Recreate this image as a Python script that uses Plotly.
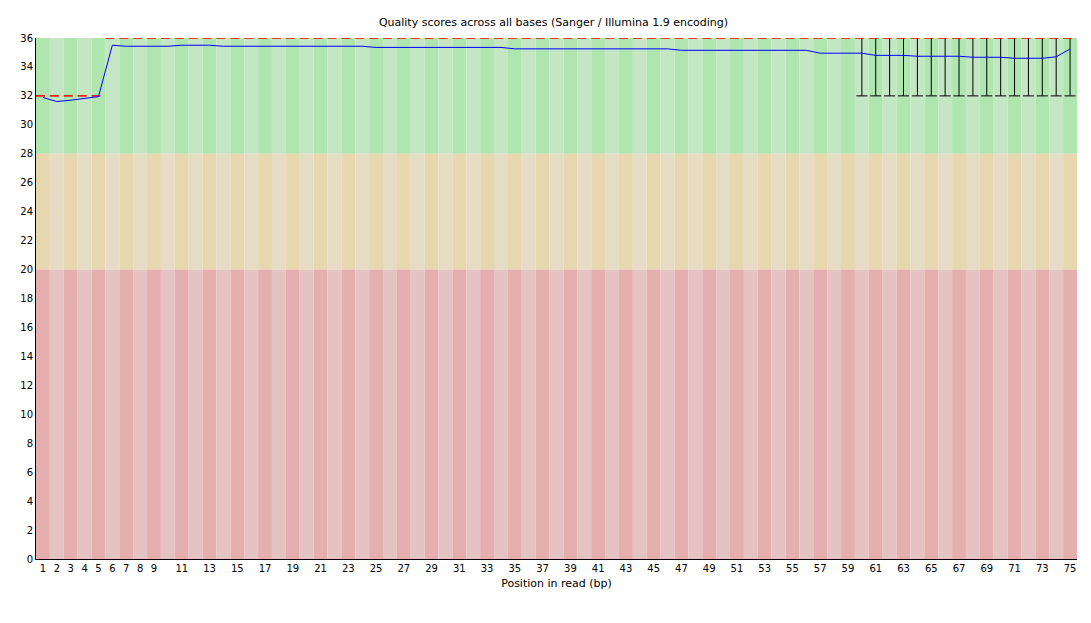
import plotly.graph_objects as go

positions = list(range(1, 76))
mean_q = [31.89, 31.61, 31.7, 31.8, 31.95, 35.5, 35.43, 35.43, 35.43, 35.43,
          35.5, 35.5, 35.5] + [35.43]*11 + [35.35]*10 + [35.25]*12 + [35.15]*10 + \
         [34.95]*4 + [34.8]*3 + [34.74]*4 + [34.67]*3 + [34.6]*3 + [34.7, 35.24]
median_q = [32]*5 + [36]*70
whisk_low = [None]*59 + [32]*16
whisk_high = [None]*59 + [36]*16
tick_vals = list(range(1, 10)) + list(range(11, 76, 2))

fig = go.Figure()
shapes = []
zones = [(28, 36, ("rgb(175,230,175)", "rgb(195,230,195)")),
         (20, 28, ("rgb(230,215,175)", "rgb(230,220,195)")),
         (0, 20, ("rgb(230,175,175)", "rgb(230,195,195)"))]
for p in positions:
    for y0, y1, cols in zones:
        shapes.append(dict(type="rect", xref="x", yref="y", x0=p-0.5, x1=p+0.5, y0=y0, y1=y1,
                           fillcolor=cols[(p-1) % 2], line_width=0, layer="below"))

wx, wy = [], []
for p, lo, hi in zip(positions, whisk_low, whisk_high):
    if lo is None:
        continue
    wx += [p, p, None, p-0.4, p+0.4, None]
    wy += [lo, hi, None, lo, lo, None]
fig.add_trace(go.Scatter(x=wx, y=wy, mode="lines", line=dict(color="black", width=1),
                         hoverinfo="skip", showlegend=False))

mx, my = [], []
for p, m in zip(positions, median_q):
    mx += [p-0.5, p+0.5, None]
    my += [m, m, None]
fig.add_trace(go.Scatter(x=mx, y=my, mode="lines", line=dict(color="red", width=1.5, dash="dash"),
                         showlegend=False))

fig.add_trace(go.Scatter(x=positions, y=mean_q, mode="lines", line=dict(color="blue", width=1),
                         showlegend=False))

fig.update_layout(
    width=1091, height=623, plot_bgcolor="white", paper_bgcolor="white",
    margin=dict(l=15, r=22, t=30, b=72),
    shapes=shapes,
    font=dict(family="DejaVu Sans", size=10, color="black"),
    title=dict(text="Quality scores across all bases (Sanger / Illumina 1.9 encoding)",
               x=0.5, xanchor="center", y=0.978, yanchor="middle", font=dict(size=11)),
    xaxis=dict(range=[0.5, 75.5], tickvals=tick_vals, ticks="", showgrid=False, zeroline=False,
               showline=True, linecolor="black", linewidth=1,
               title=dict(text="Position in read (bp)", standoff=6, font=dict(size=11))),
    yaxis=dict(range=[0, 36], dtick=2, ticks="", showgrid=False, zeroline=False,
               showline=True, linecolor="black", linewidth=1),
)
fig.write_html("out.html")
